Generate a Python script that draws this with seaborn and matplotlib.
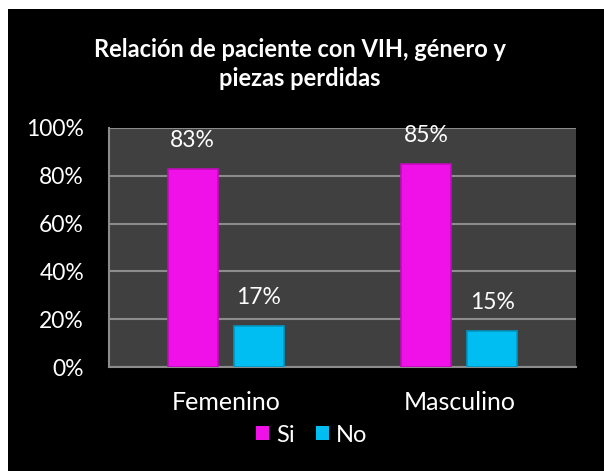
import matplotlib
matplotlib.use("Agg")
import matplotlib.pyplot as plt
import seaborn as sns
import pandas as pd
from matplotlib.patches import Rectangle

categories = ["Femenino", "Masculino"]
series = ["Si", "No"]
si_values = [83, 85]
no_values = [17, 15]
yticks = [0, 20, 40, 60, 80, 100]
title = "Relación de paciente con VIH, género y\npiezas perdidas"

rows = []
for c, s, n in zip(categories, si_values, no_values):
    rows.append({"cat": c, "serie": "Si", "val": s})
    rows.append({"cat": c, "serie": "No", "val": n})
df = pd.DataFrame(rows)

sns.set_theme(style="dark")
plt.rcParams['font.family'] = ['Lato', 'DejaVu Sans']

fig = plt.figure(figsize=(6.04, 4.71), dpi=100, facecolor="white")
bg = Rectangle((8/604, 0), 1 - 8/604, (471 - 9)/471,
               transform=fig.transFigure, facecolor="black",
               edgecolor="none", zorder=-10)
fig.add_artist(bg)
ax = fig.add_axes([109/604, (471-367)/471, (576-109)/604, (367-128)/471])
ax.set_zorder(1)
ax.set_facecolor("#404040")

palette = {"Si": "#F010E8", "No": "#00BEF2"}
edges = {"Si": "#C00CB8", "No": "#0096C0"}
sns.barplot(data=df, x="cat", y="val", hue="serie", palette=palette,
            width=0.565, gap=0.243, ax=ax, saturation=1, legend=True,
            edgecolor="none", zorder=3)

for cont, name in zip(ax.containers, series):
    for p in cont:
        p.set_edgecolor(edges[name])
        p.set_linewidth(1.2)
    ax.bar_label(cont, labels=[f"{int(round(v))}%" for v in cont.datavalues],
                 color="white", fontsize=16.5, padding=13)

ax.set_ylim(0, 100)
ax.set_yticks(yticks)
ax.set_yticklabels([f"{t}%" for t in yticks], color="white", fontsize=16.5)
ax.tick_params(axis="y", pad=18, length=0)
ax.tick_params(axis="x", pad=17, length=0, colors="white", labelsize=18)
ax.set_xlabel("")
ax.set_ylabel("")
ax.yaxis.grid(True, color="#8C8C8C", linewidth=1.5, zorder=1)
ax.xaxis.grid(False)
ax.set_axisbelow(True)
for s in ["top", "right"]:
    ax.spines[s].set_visible(False)
ax.spines["left"].set_color("#8C8C8C")
ax.spines["left"].set_linewidth(1.5)
ax.spines["bottom"].set_color("#8C8C8C")
ax.spines["bottom"].set_linewidth(1.5)

fig.text(300/604, 1 - 64/471, title, ha="center", va="center",
         color="white", fontsize=17, fontweight="bold", linespacing=1.35)

leg = ax.legend(loc="center", bbox_to_anchor=(0.434, -0.285), ncol=2,
                frameon=False, fontsize=17, handlelength=0.55, handleheight=0.55,
                handletextpad=0.3, columnspacing=0.9, labelcolor="white")

fig.savefig("out.png", dpi=100, facecolor="white")
